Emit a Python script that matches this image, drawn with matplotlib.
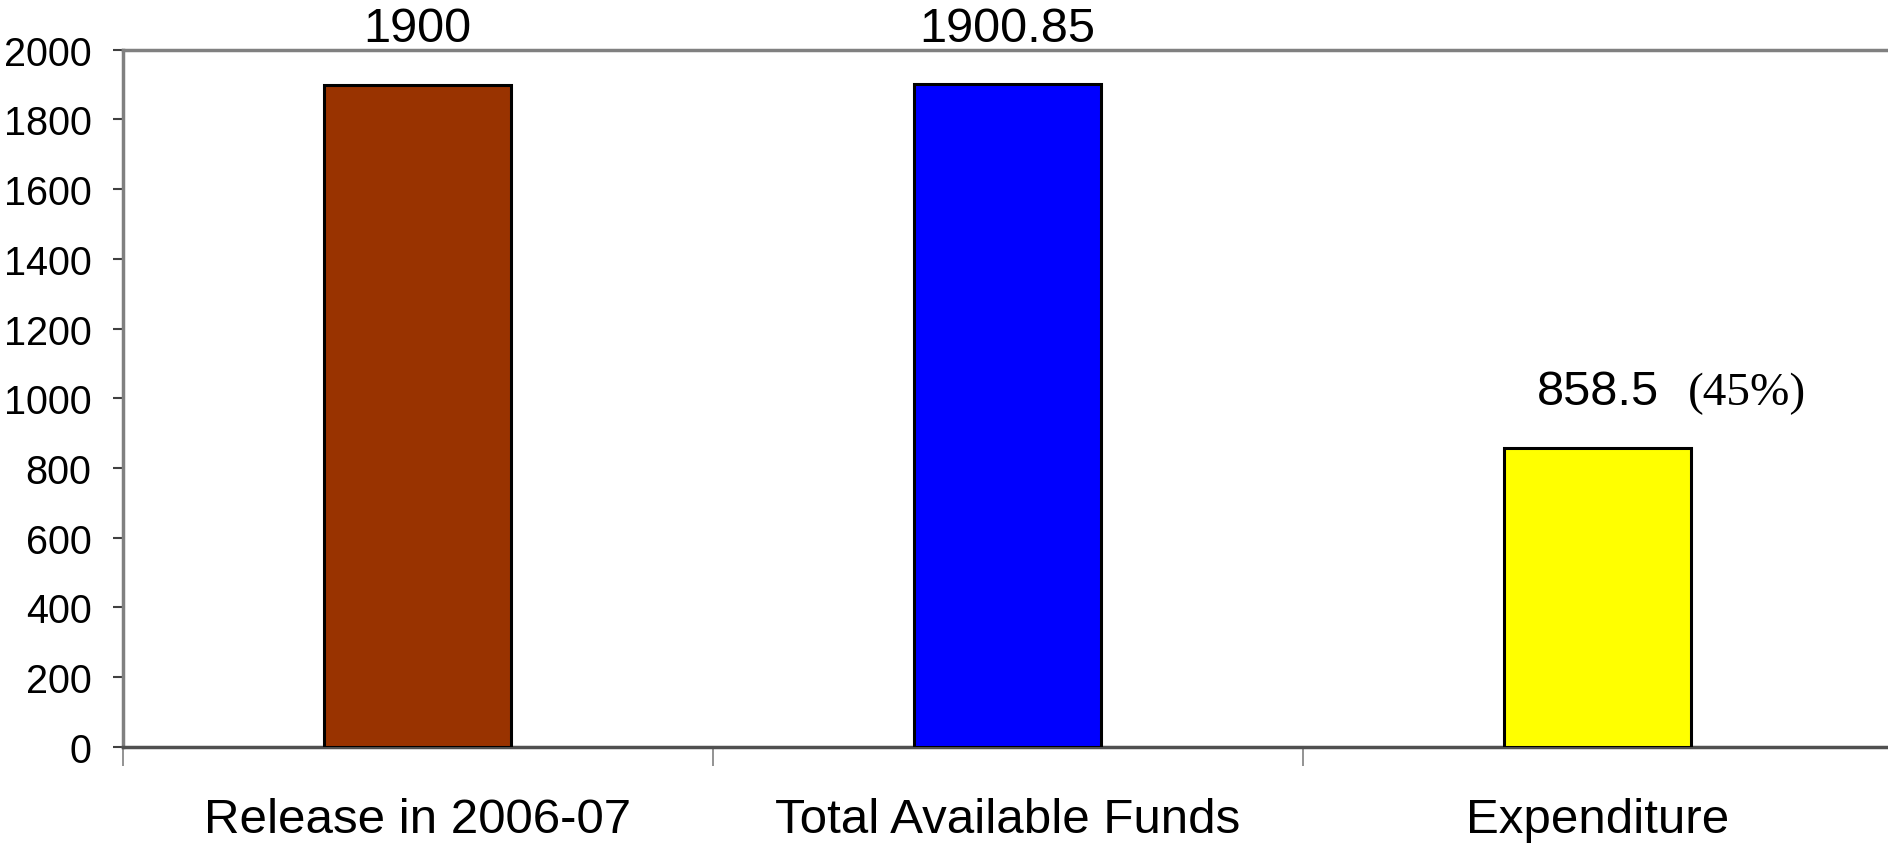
import matplotlib
matplotlib.use("Agg")
import matplotlib.pyplot as plt

categories = ["Release in 2006-07", "Total Available Funds", "Expenditure"]
values = [1900, 1900.85, 858.5]
value_labels = ["1900", "1900.85", "858.5"]
extra_label = "(45%)"
colors = ["#993300", "#0000FF", "#FFFF00"]
yticks = [0, 200, 400, 600, 800, 1000, 1200, 1400, 1600, 1800, 2000]

plt.rcParams["font.family"] = ["Liberation Sans", "DejaVu Sans"]

fig = plt.figure(figsize=(18.88, 8.45), dpi=100)
ax = fig.add_axes([0.065, 0.115, 0.935 + 0.0025, 0.825])

x = list(range(len(categories)))
ax.bar(x, values, width=0.317, color=colors, edgecolor="black", linewidth=2.2, zorder=3)

ax.set_xlim(-0.5, 2.5)
ax.set_ylim(0, 2000)
ax.set_yticks(yticks)
ax.set_yticklabels([str(v) for v in yticks], fontsize=28.5)
ax.tick_params(axis="y", direction="out", length=7.5, width=1.5, color="#404040", pad=15)

ax.set_xticks([-0.5, 0.5, 1.5, 2.5])
ax.set_xticklabels([])
ax.tick_params(axis="x", which="major", direction="out", length=14, width=1.2, color="#808080")
ax.set_xticks(x, minor=True)
ax.set_xticklabels(categories, minor=True, fontsize=35.5)
ax.tick_params(axis="x", which="minor", length=0, pad=36)

for side in ["left", "top"]:
    ax.spines[side].set_color("#808080")
    ax.spines[side].set_linewidth(2.5)
ax.spines["bottom"].set_color("#505050")
ax.spines["bottom"].set_linewidth(2.5)
ax.spines["right"].set_visible(False)

for xi, v, lab in zip(x, values, value_labels):
    ax.annotate(lab, (xi, v), xytext=(0, 24), textcoords="offset points",
                ha="center", va="bottom", fontsize=35, annotation_clip=False)

ax.annotate(extra_label, (x[2] + 0.153, values[2]), xytext=(0, 24), textcoords="offset points",
            ha="left", va="bottom", fontsize=34, family=["Liberation Serif", "DejaVu Serif"],
            annotation_clip=False)

fig.savefig("out.png", dpi=100)
